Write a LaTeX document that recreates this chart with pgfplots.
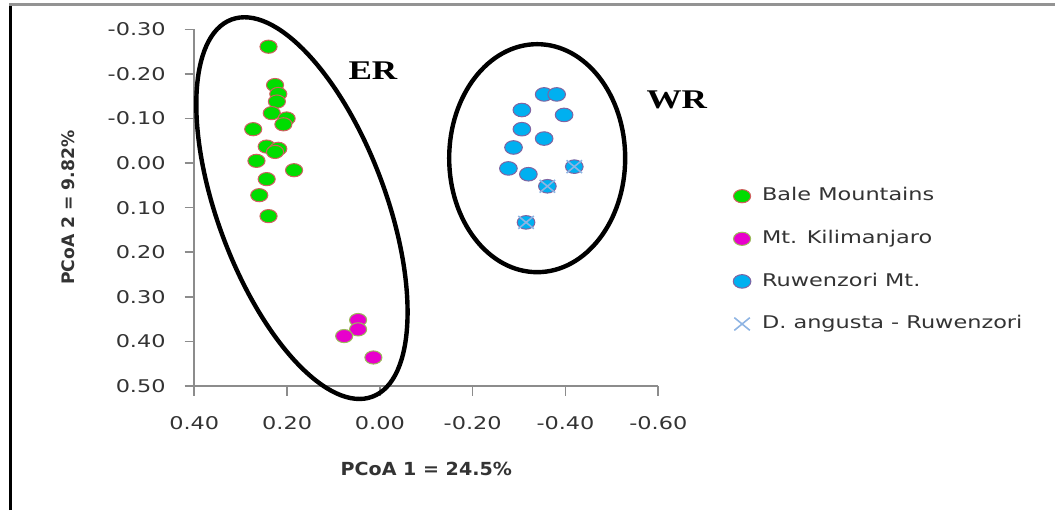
\documentclass[border=0pt]{standalone}
\usepackage{fontspec}
\setmainfont{DejaVu Sans}[FakeStretch=1.28]
\newfontfamily\xlabfont{DejaVu Sans}[FakeStretch=1.06]
\newfontfamily\ylabfont{DejaVu Sans}
\newfontfamily\groupfont{Liberation Serif}[FakeStretch=1.3]
\usepackage{pgfplots}
\pgfplotsset{compat=1.18}

\definecolor{baleGreen}{HTML}{00DD00}
\definecolor{baleEdge}{HTML}{D06060}
\definecolor{kiliMag}{HTML}{E800CC}
\definecolor{kiliEdge}{HTML}{9BBB59}
\definecolor{ruwBlue}{HTML}{00B0F0}
\definecolor{ruwEdge}{HTML}{8064A2}
\definecolor{angX}{HTML}{8EB4E3}
\definecolor{axisGray}{HTML}{8C8C8C}
\definecolor{txt}{HTML}{333333}

\begin{document}
\begin{tikzpicture}
\path[use as bounding box] (0,0) rectangle (527.5pt,255pt);
% frame edges
\draw[line width=1.5pt, black] (5.35pt,0) -- (5.35pt,253.6pt);
\draw[line width=1.4pt, gray!85] (4.6pt,252.85pt) -- (527.5pt,252.85pt);
\begin{axis}[
  at={(97.15pt,62pt)}, anchor=south west,
  scale only axis, width=232pt, height=178.35pt,
  x dir=reverse, y dir=reverse,
  xmin=-0.6, xmax=0.4, ymin=-0.3, ymax=0.5,
  axis lines=left,
  axis line style={-, axisGray, line width=0.8pt},
  tick style={axisGray, line width=0.8pt},
  tick align=outside,
  major tick length=4.8pt,
  clip=false,
  xtick={-0.6,-0.4,-0.2,0,0.2,0.4},
  xticklabels={-0.60,-0.40,-0.20,0.00,0.20,0.40},
  ytick={-0.3,-0.2,-0.1,0,0.1,0.2,0.3,0.4,0.5},
  yticklabels={-0.30,-0.20,-0.10,0.00,0.10,0.20,0.30,0.40,0.50},
  ticklabel style={font=\fontsize{8.75}{10}\selectfont, text=txt},
  xticklabel style={yshift=-7pt},
  yticklabel style={xshift=-6pt},
  xlabel={PCoA 1 = 24.5\%},
  xlabel style={font=\xlabfont\bfseries\fontsize{9}{11}\selectfont, text=txt,
    at={(axis description cs:0.5,-0.2335)}, anchor=center},
  ylabel={PCoA 2 = 9.82\%},
  ylabel style={font=\ylabfont\bfseries\fontsize{8.6}{10}\selectfont, text=txt,
    at={(axis description cs:-0.272,0.5)}, anchor=center},
  legend style={draw=none, fill=none, at={(1.1431,0.353)}, anchor=west,
    inner sep=0pt, row sep=10pt, font=\fontsize{8.75}{10}\selectfont, text=txt,
    nodes={inner sep=1.5pt, text height=6.5pt, text depth=1.8pt}},
  legend cell align=left,
  legend image code/.code={%
    \path[draw=none, fill=none] (-8.5pt,-0.05pt) rectangle (8.5pt,0.05pt);
    \draw[#1] plot coordinates {(0pt,0pt)};},
]
\addplot[only marks, mark=*, mark size=3.3pt,
  mark options={xscale=1.3, fill=baleGreen, draw=baleEdge, line width=0.5pt}]
  coordinates {
  (0.240,-0.261) (0.226,-0.175) (0.219,-0.155) (0.222,-0.138)
  (0.233,-0.112) (0.201,-0.100) (0.208,-0.087) (0.273,-0.076)
  (0.244,-0.037) (0.219,-0.032) (0.226,-0.025) (0.266,-0.005)
  (0.185,0.016) (0.244,0.036) (0.260,0.072) (0.240,0.119)
};
\addlegendentry{Bale Mountains}
\addplot[only marks, mark=*, mark size=3.3pt,
  mark options={xscale=1.3, fill=kiliMag, draw=kiliEdge, line width=0.5pt}]
  coordinates {
  (0.047,0.352) (0.047,0.373) (0.077,0.388) (0.014,0.436)
};
\addlegendentry{Mt. Kilimanjaro}
\addplot[only marks, mark=*, mark size=3.4pt,
  mark options={xscale=1.3, fill=ruwBlue, draw=ruwEdge, line width=0.5pt}]
  coordinates {
  (-0.354,-0.154) (-0.381,-0.154) (-0.306,-0.119) (-0.397,-0.108)
  (-0.306,-0.076) (-0.354,-0.055) (-0.288,-0.035) (-0.277,0.012)
  (-0.320,0.025) (-0.419,0.008) (-0.361,0.052) (-0.315,0.133)
};
\addlegendentry{Ruwenzori Mt.}
\addplot[only marks, mark=x, mark size=4.5pt,
  mark options={xscale=1.22, draw=angX, line width=0.8pt}]
  coordinates {
  (-0.419,0.008) (-0.361,0.052) (-0.315,0.133)
};
\addlegendentry{D. angusta - Ruwenzori}

% group outlines
\draw[line width=2.2pt] (axis cs:0.168,0.101) circle [x radius=42pt, y radius=100.65pt, rotate=20.5];
\draw[line width=2.2pt] (axis cs:-0.339,-0.011) circle [x radius=44pt, y radius=57pt];
\node[font=\groupfont\bfseries\fontsize{13.5}{16}\selectfont] at (axis cs:0.015,-0.2065) {ER};
\node[font=\groupfont\bfseries\fontsize{13.5}{16}\selectfont] at (axis cs:-0.640,-0.141) {WR};
\end{axis}
\end{tikzpicture}
\end{document}
